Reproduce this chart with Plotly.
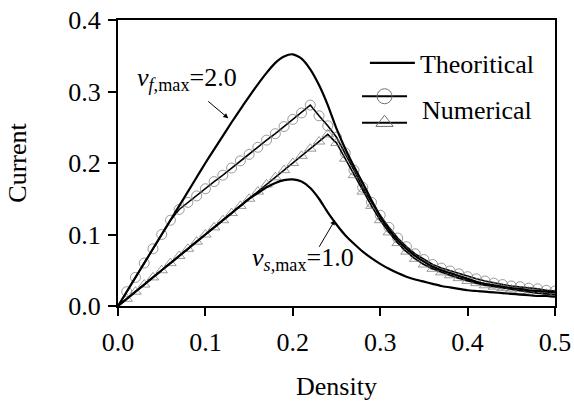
import plotly.graph_objects as go

density = [0.00, 0.01, 0.02, 0.03, 0.04, 0.05, 0.06, 0.07, 0.08, 0.09,
           0.10, 0.11, 0.12, 0.13, 0.14, 0.15, 0.16, 0.17, 0.18, 0.19,
           0.20, 0.21, 0.22, 0.23, 0.24, 0.25, 0.26, 0.27, 0.28, 0.29,
           0.30, 0.31, 0.32, 0.33, 0.34, 0.35, 0.36, 0.37, 0.38, 0.39,
           0.40, 0.41, 0.42, 0.43, 0.44, 0.45, 0.46, 0.47, 0.48, 0.49, 0.50]

theory_vf2 = [0.000, 0.020, 0.040, 0.060, 0.080, 0.100, 0.120, 0.140, 0.160, 0.180,
              0.200, 0.219, 0.238, 0.257, 0.275, 0.293, 0.310, 0.326, 0.340, 0.349,
              0.352, 0.346, 0.331, 0.309, 0.281, 0.248, 0.220, 0.195, 0.172, 0.148,
              0.125, 0.107, 0.092, 0.080, 0.070, 0.062, 0.055, 0.050, 0.046, 0.042,
              0.038, 0.034, 0.031, 0.029, 0.027, 0.025, 0.024, 0.022, 0.021, 0.020, 0.019]

theory_vs1 = [0.000, 0.010, 0.020, 0.030, 0.040, 0.050, 0.060, 0.070, 0.080, 0.090,
              0.100, 0.110, 0.120, 0.130, 0.140, 0.150, 0.158, 0.166, 0.172, 0.176,
              0.177, 0.174, 0.165, 0.150, 0.131, 0.114, 0.099, 0.087, 0.076, 0.067,
              0.059, 0.052, 0.046, 0.041, 0.037, 0.034, 0.031, 0.028, 0.026, 0.024,
              0.022, 0.021, 0.020, 0.019, 0.018, 0.017, 0.016, 0.015, 0.014, 0.014, 0.013]

numerical_vf2 = [0.000, 0.020, 0.040, 0.060, 0.080, 0.100, 0.120, 0.135, 0.145, 0.154,
                 0.164, 0.174, 0.183, 0.193, 0.203, 0.212, 0.222, 0.232, 0.241, 0.251,
                 0.261, 0.270, 0.281, 0.266, 0.252, 0.236, 0.214, 0.190, 0.166, 0.145,
                 0.127, 0.110, 0.095, 0.083, 0.073, 0.065, 0.058, 0.053, 0.049, 0.045,
                 0.041, 0.038, 0.035, 0.032, 0.030, 0.028, 0.027, 0.025, 0.024, 0.022, 0.021]

numerical_vs1 = [0.000, 0.010, 0.020, 0.030, 0.040, 0.050, 0.060, 0.070, 0.080, 0.090,
                 0.100, 0.110, 0.120, 0.130, 0.140, 0.150, 0.160, 0.170, 0.180, 0.190,
                 0.200, 0.210, 0.220, 0.230, 0.240, 0.228, 0.206, 0.183, 0.160, 0.140,
                 0.120, 0.103, 0.088, 0.076, 0.066, 0.058, 0.052, 0.047, 0.043, 0.039,
                 0.035, 0.032, 0.029, 0.027, 0.025, 0.023, 0.021, 0.020, 0.018, 0.017, 0.016]

x_ticks = [0.0, 0.1, 0.2, 0.3, 0.4, 0.5]
x_tick_labels = ["0.0", "0.1", "0.2", "0.3", "0.4", "0.5"]
y_ticks = [0.0, 0.1, 0.2, 0.3, 0.4]
y_tick_labels = ["0.0", "0.1", "0.2", "0.3", "0.4"]

FONT = "Liberation Serif, Times New Roman, serif"
GRAY = "#707070"
FS = 26
marker_sizes = [0] + [10] * (len(density) - 1)

fig = go.Figure()

fig.add_trace(go.Scatter(
    x=density, y=numerical_vf2, mode="lines+markers", showlegend=False,
    line=dict(color="black", width=1.6),
    marker=dict(symbol="circle-open", size=marker_sizes, color=GRAY, line=dict(width=1, color=GRAY)),
))
fig.add_trace(go.Scatter(
    x=density, y=numerical_vs1, mode="lines+markers", showlegend=False,
    line=dict(color="black", width=1.6),
    marker=dict(symbol="triangle-up-open", size=marker_sizes, color=GRAY, line=dict(width=1, color=GRAY)),
))
fig.add_trace(go.Scatter(
    x=density, y=theory_vf2, mode="lines", name="Theoritical", legend="legend",
    line=dict(color="black", width=2.2, shape="spline", smoothing=0.6),
))
fig.add_trace(go.Scatter(
    x=density, y=theory_vs1, mode="lines", showlegend=False,
    line=dict(color="black", width=2.2, shape="spline", smoothing=0.6),
))
# legend-only entries for the numerical series
fig.add_trace(go.Scatter(
    x=[None], y=[None], mode="lines+markers", name=" ", legend="legend2",
    line=dict(color="black", width=2),
    marker=dict(symbol="circle-open", size=15, color=GRAY, line=dict(width=1, color=GRAY)),
))
fig.add_trace(go.Scatter(
    x=[None], y=[None], mode="lines+markers", name=" ", legend="legend2",
    line=dict(color="black", width=2),
    marker=dict(symbol="triangle-up-open", size=15, color=GRAY, line=dict(width=1, color=GRAY)),
))

axis_common = dict(
    showline=True, linecolor="black", linewidth=2, mirror=True,
    ticks="outside", ticklen=8, tickwidth=2, tickcolor="black",
    showgrid=False, zeroline=False, automargin=False,
    tickfont=dict(family=FONT, size=FS, color="black"),
)

fig.update_layout(
    template="none",
    width=574, height=401,
    margin=dict(l=118, r=19, t=20, b=95),
    paper_bgcolor="white", plot_bgcolor="white",
    font=dict(family=FONT, size=FS, color="black"),
    xaxis=dict(range=[0, 0.5], tickvals=x_ticks, ticktext=x_tick_labels, ticklabelstandoff=4,
               title=dict(text="Density", font=dict(family=FONT, size=FS), standoff=22),
               **axis_common),
    yaxis=dict(range=[0, 0.4], tickvals=y_ticks, ticktext=y_tick_labels, ticklabelstandoff=2,
               title=dict(text="Current", font=dict(family=FONT, size=FS), standoff=34),
               **axis_common),
    legend=dict(x=0.565, y=0.932, xanchor="left", yanchor="top", itemwidth=45,
                bgcolor="rgba(0,0,0,0)", font=dict(family=FONT, size=FS)),
    legend2=dict(x=0.547, y=0.797, xanchor="left", yanchor="top", itemwidth=45,
                 bgcolor="rgba(0,0,0,0)", font=dict(family=FONT, size=18), tracegroupgap=0),
    showlegend=True,
)

fig.add_annotation(x=0.691, y=0.685, xref="paper", yref="paper", xanchor="left", yanchor="middle",
                   text="Numerical", showarrow=False, font=dict(family=FONT, size=FS))

# curve labels
fig.add_annotation(x=0.019, y=0.318, xref="x", yref="y", xanchor="left", yanchor="middle",
                   text="<i>v</i><sub><i>f</i>,max</sub>=2.0", showarrow=False,
                   font=dict(family=FONT, size=26))
fig.add_annotation(x=0.151, y=0.066, xref="x", yref="y", xanchor="left", yanchor="middle",
                   text="<i>v</i><sub><i>s</i>,max</sub>=1.0", showarrow=False,
                   font=dict(family=FONT, size=26))
# arrows
fig.add_annotation(x=0.1262, y=0.2625, ax=0.1015, ay=0.288, xref="x", yref="y",
                   axref="x", ayref="y", text="", showarrow=True,
                   arrowhead=2, arrowsize=1, arrowwidth=1, arrowcolor="black")
fig.add_annotation(x=0.2483, y=0.1203, ax=0.2292, ay=0.0807, xref="x", yref="y",
                   axref="x", ayref="y", text="", showarrow=True,
                   arrowhead=2, arrowsize=1, arrowwidth=1, arrowcolor="black")

fig.write_html("out.html", config={"displayModeBar": False},
               post_script="document.body.style.margin='0';")
